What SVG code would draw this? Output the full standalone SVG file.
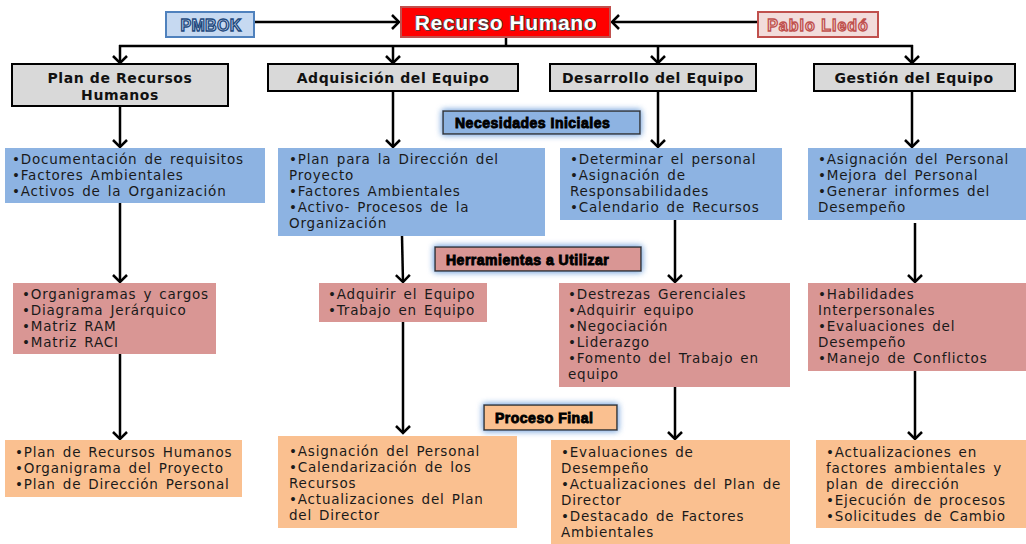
<svg xmlns="http://www.w3.org/2000/svg" width="1026" height="544" viewBox="0 0 1026 544">
<defs>
<style>
.t{font-family:"DejaVu Sans",sans-serif;font-size:13.5px;letter-spacing:0.8px;word-spacing:2px;fill:#1a1a1a}
.h{font-family:"DejaVu Sans",sans-serif;font-size:14px;font-weight:bold;letter-spacing:0.6px;fill:#111;text-anchor:middle}
.lab{font-family:"Liberation Sans",Arial,sans-serif;font-size:14px;font-weight:bold;letter-spacing:0.5px;fill:#000;stroke:#000;stroke-width:0.9}
.gray{fill:#d9d9d9;stroke:#000;stroke-width:2}
.blue{fill:#8db3e2}
.pink{fill:#d99694}
.orng{fill:#fac090}
.conn{stroke:#000;stroke-width:2.5;fill:none}
</style>
<marker id="ah" markerUnits="userSpaceOnUse" markerWidth="16" markerHeight="16" refX="8" refY="8" orient="auto">
<path d="M1,1 L8,8 L1,15" fill="none" stroke="#000" stroke-width="2.5"/>
</marker>
<filter id="glow" x="-20%" y="-60%" width="140%" height="220%">
<feGaussianBlur in="SourceAlpha" stdDeviation="3" result="b"/>
<feFlood flood-color="#8db3e2"/>
<feComposite in2="b" operator="in" result="g"/>
<feMerge><feMergeNode in="g"/><feMergeNode in="g"/><feMergeNode in="SourceGraphic"/></feMerge>
</filter>
</defs>
<rect width="1026" height="544" fill="#fff"/>

<g id="connectors">
<line class="conn" x1="254" y1="22" x2="399" y2="22" marker-end="url(#ah)"/>
<line class="conn" x1="758" y1="22" x2="612" y2="22" marker-end="url(#ah)"/>
<line class="conn" x1="506" y1="37" x2="506" y2="46"/>
<line class="conn" x1="119" y1="46" x2="913" y2="46"/>
<line class="conn" x1="120" y1="45" x2="120" y2="63" marker-end="url(#ah)"/>
<line class="conn" x1="393" y1="45" x2="393" y2="63" marker-end="url(#ah)"/>
<line class="conn" x1="658" y1="45" x2="658" y2="63" marker-end="url(#ah)"/>
<line class="conn" x1="912" y1="45" x2="912" y2="63" marker-end="url(#ah)"/>
<line class="conn" x1="120" y1="106" x2="120" y2="147" marker-end="url(#ah)"/>
<line class="conn" x1="393" y1="92" x2="393" y2="147" marker-end="url(#ah)"/>
<line class="conn" x1="658" y1="92" x2="658" y2="147" marker-end="url(#ah)"/>
<line class="conn" x1="912" y1="92" x2="912" y2="147" marker-end="url(#ah)"/>
<line class="conn" x1="120" y1="203" x2="120" y2="282" marker-end="url(#ah)"/>
<line class="conn" x1="402" y1="236" x2="403" y2="282" marker-end="url(#ah)"/>
<line class="conn" x1="675" y1="218" x2="675" y2="282" marker-end="url(#ah)"/>
<line class="conn" x1="915" y1="223" x2="915" y2="282" marker-end="url(#ah)"/>
<line class="conn" x1="120" y1="354" x2="120" y2="439" marker-end="url(#ah)"/>
<line class="conn" x1="403" y1="321" x2="403" y2="433" marker-end="url(#ah)"/>
<line class="conn" x1="675" y1="387" x2="675" y2="439" marker-end="url(#ah)"/>
<line class="conn" x1="915" y1="371" x2="915" y2="439" marker-end="url(#ah)"/>
</g>

<g id="pmbok">
<rect x="166" y="12" width="88" height="25" fill="#c6d9f1" stroke="#4f81bd" stroke-width="2"/>
<text x="211" y="31" text-anchor="middle" font-family="Liberation Sans,Arial,sans-serif" font-size="16" font-weight="bold" letter-spacing="0.3" fill="#c6d9f1" stroke="#1f497d" stroke-width="1.3">PMBOK</text>
</g>
<g id="recurso-humano">
<rect x="401" y="7" width="209" height="30" fill="#ff0000" stroke="#c0504d" stroke-width="2"/>
<text x="506" y="29.5" text-anchor="middle" font-family="Liberation Sans,Arial,sans-serif" font-size="21" font-weight="bold" letter-spacing="0.6" fill="#fff" stroke="#444" stroke-width="1.6" paint-order="stroke">Recurso Humano</text>
</g>
<g id="pablo">
<rect x="758" y="12" width="120" height="25" fill="#f2dcdb" stroke="#c0504d" stroke-width="2"/>
<text x="818" y="31" text-anchor="middle" font-family="Liberation Sans,Arial,sans-serif" font-size="16" font-weight="bold" letter-spacing="1" fill="#f2dcdb" stroke="#c0504d" stroke-width="1.3">Pablo Lledó</text>
</g>

<g id="h-plan"><rect class="gray" x="12" y="64" width="216" height="42"/>
<text class="h" x="120" y="83">Plan de Recursos</text><text class="h" x="120" y="100">Humanos</text></g>
<g id="h-adq"><rect class="gray" x="268" y="64" width="250" height="27"/>
<text class="h" x="393" y="83">Adquisición del Equipo</text></g>
<g id="h-des"><rect class="gray" x="550" y="64" width="206" height="27"/>
<text class="h" x="653" y="83">Desarrollo del Equipo</text></g>
<g id="h-ges"><rect class="gray" x="814" y="64" width="201" height="27"/>
<text class="h" x="914" y="83">Gestión del Equipo</text></g>

<g id="lab-necesidades"><rect x="443" y="111" width="197" height="23" fill="#8db3e2" stroke="#333" stroke-width="1.5" filter="url(#glow)"/>
<text class="lab" x="455" y="128">Necesidades Iniciales</text></g>
<g id="lab-herramientas"><rect x="435" y="247" width="206" height="24" fill="#d99694" stroke="#333" stroke-width="1.5" filter="url(#glow)"/>
<text class="lab" x="446" y="264.5">Herramientas a Utilizar</text></g>
<g id="lab-proceso"><rect x="484" y="405" width="133" height="25" fill="#fac090" stroke="#333" stroke-width="1.5" filter="url(#glow)"/>
<text class="lab" x="495" y="423">Proceso Final</text></g>

<g id="n-1-2"><rect class="blue" x="5" y="148" width="260" height="55"/>
<text class="t" x="12" y="164">•Documentación de requisitos</text>
<text class="t" x="12" y="180">•Factores Ambientales</text>
<text class="t" x="12" y="196">•Activos de la Organización</text></g>
<g id="n-2-2"><rect class="blue" x="278" y="148" width="267" height="88"/>
<text class="t" x="289" y="164">•Plan para la Dirección del</text>
<text class="t" x="289" y="180">Proyecto</text>
<text class="t" x="289" y="196">•Factores Ambientales</text>
<text class="t" x="289" y="212">•Activo- Procesos de la</text>
<text class="t" x="289" y="228">Organización</text></g>
<g id="n-3-2"><rect class="blue" x="560" y="148" width="222" height="72"/>
<text class="t" x="570" y="164">•Determinar el personal</text>
<text class="t" x="570" y="180">•Asignación de</text>
<text class="t" x="570" y="196">Responsabilidades</text>
<text class="t" x="570" y="212">•Calendario de Recursos</text></g>
<g id="n-4-2"><rect class="blue" x="808" y="148" width="218" height="72"/>
<text class="t" x="818" y="164">•Asignación del Personal</text>
<text class="t" x="818" y="180">•Mejora del Personal</text>
<text class="t" x="818" y="196">•Generar informes del</text>
<text class="t" x="818" y="212">Desempeño</text></g>

<g id="n-1-3"><rect class="pink" x="13" y="283" width="203" height="71"/>
<text class="t" x="22" y="299">•Organigramas y cargos</text>
<text class="t" x="22" y="315">•Diagrama Jerárquico</text>
<text class="t" x="22" y="331">•Matriz RAM</text>
<text class="t" x="22" y="347">•Matriz RACI</text></g>
<g id="n-2-3"><rect class="pink" x="319" y="283" width="168" height="39"/>
<text class="t" x="328" y="299">•Adquirir el Equipo</text>
<text class="t" x="328" y="315">•Trabajo en Equipo</text></g>
<g id="n-3-3"><rect class="pink" x="559" y="283" width="231" height="104"/>
<text class="t" x="568" y="299">•Destrezas Gerenciales</text>
<text class="t" x="568" y="315">•Adquirir equipo</text>
<text class="t" x="568" y="331">•Negociación</text>
<text class="t" x="568" y="347">•Liderazgo</text>
<text class="t" x="568" y="363">•Fomento del Trabajo en</text>
<text class="t" x="568" y="379">equipo</text></g>
<g id="n-4-3"><rect class="pink" x="808" y="283" width="218" height="88"/>
<text class="t" x="818" y="299">•Habilidades</text>
<text class="t" x="818" y="315">Interpersonales</text>
<text class="t" x="818" y="331">•Evaluaciones del</text>
<text class="t" x="818" y="347">Desempeño</text>
<text class="t" x="818" y="363">•Manejo de Conflictos</text></g>

<g id="n-1-4"><rect class="orng" x="5" y="440" width="237" height="57"/>
<text class="t" x="15" y="457">•Plan de Recursos Humanos</text>
<text class="t" x="15" y="473">•Organigrama del Proyecto</text>
<text class="t" x="15" y="489">•Plan de Dirección Personal</text></g>
<g id="n-2-4"><rect class="orng" x="278" y="436" width="239" height="92"/>
<text class="t" x="289" y="456">•Asignación del Personal</text>
<text class="t" x="289" y="472">•Calendarización de los</text>
<text class="t" x="289" y="488">Recursos</text>
<text class="t" x="289" y="504">•Actualizaciones del Plan</text>
<text class="t" x="289" y="520">del Director</text></g>
<g id="n-3-4"><rect class="orng" x="551" y="440" width="239" height="104"/>
<text class="t" x="561" y="457">•Evaluaciones de</text>
<text class="t" x="561" y="473">Desempeño</text>
<text class="t" x="561" y="489">•Actualizaciones del Plan de</text>
<text class="t" x="561" y="505">Director</text>
<text class="t" x="561" y="521">•Destacado de Factores</text>
<text class="t" x="561" y="537">Ambientales</text></g>
<g id="n-4-4"><rect class="orng" x="816" y="440" width="210" height="88"/>
<text class="t" x="826" y="457">•Actualizaciones en</text>
<text class="t" x="826" y="473">factores ambientales y</text>
<text class="t" x="826" y="489">plan de dirección</text>
<text class="t" x="826" y="505">•Ejecución de procesos</text>
<text class="t" x="826" y="521">•Solicitudes de Cambio</text></g>
</svg>
